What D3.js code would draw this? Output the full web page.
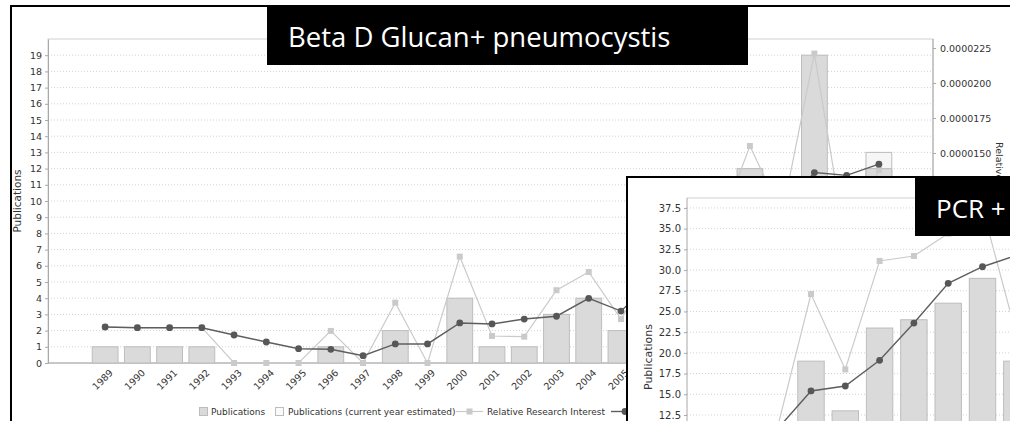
<!DOCTYPE html>
<html>
<head>
<meta charset="utf-8">
<script src="https://cdn.jsdelivr.net/npm/d3@7"></script>
<style>
body { margin: 0; background: #fff; }
svg { display: block; font-family: "DejaVu Sans", sans-serif; }
</style>
</head>
<body>
<script>
(function () {
    'use strict';

    // main chart: Beta D Glucan + pneumocystis
    var years = ['1989', '1990', '1991', '1992', '1993', '1994', '1995', '1996', '1997',
        '1998', '1999', '2000', '2001', '2002', '2003', '2004', '2005', '2006', '2007',
        '2008', '2009', '2010', '2011', '2012', '2013'];
    var publications = [1, 1, 1, 1, 0, 0, 0, 1, 0, 2, 0, 4, 1, 1, 3, 4, 2, 3, 6, 8, 12, 10, 19, 8, 12];
    var estimated = [0, 0, 0, 0, 0, 0, 0, 0, 0, 0, 0, 0, 0, 0, 0, 0, 0, 0, 0, 0, 0, 0, 0, 0, 13];
    var relInterest = [0.00000257, 0.00000252, 0.00000252, 0.00000252, 0, 0, 0, 0.00000229, 0,
        0.00000431, 0, 0.0000076, 0.00000193, 0.00000188, 0.0000052, 0.0000065, 0.00000314,
        0.0000070, 0.0000080, 0.0000094, 0.0000155, 0.0000106, 0.0000221, 0.0000081, 0.0000138];
    var relSmoothed = [0.00000257, 0.00000252, 0.00000252, 0.00000252, 0.0000020, 0.0000015,
        0.00000102, 0.00000098, 0.00000052, 0.00000136, 0.00000136, 0.00000286, 0.00000279,
        0.00000314, 0.00000334, 0.00000462, 0.00000371, 0.0000058, 0.0000078, 0.0000098,
        0.0000118, 0.0000110, 0.0000136, 0.0000134, 0.0000142];
    var leftTicks = d3.range(0, 20);
    // only the right-axis ticks above the inset are visible
    var rightTicks = [0.0000150, 0.0000175, 0.0000200, 0.0000225];

    // inset chart: PCR + pneumocystis
    var insetYears = ['1987', '1988', '1989', '1990', '1991', '1992', '1993', '1994', '1995', '1996', '1997'];
    var insetPubs = [3, 5, 9, 19, 13, 23, 24, 26, 29, 19, 22];
    var insetRel = [0.0000050, 0.0000090, 0.0000106, 0.0000271, 0.0000180, 0.0000311, 0.0000317,
        0.0000344, 0.0000375, 0.0000220, 0.0000200];
    var insetSmoothed = [0.0000040, 0.0000070, 0.0000107, 0.0000154, 0.0000160, 0.0000191,
        0.0000236, 0.0000284, 0.0000304, 0.0000318, 0.0000325];
    var insetGrid = d3.range(2.5, 40, 2.5);
    var insetTicks = [12.5, 15, 17.5, 20, 22.5, 25, 27.5, 30, 32.5, 35, 37.5];

    var legendItems = ['Publications', 'Publications (current year estimated)', 'Relative Research Interest'];

    var barFill = '#dadada', barStroke = '#bdbdbd';
    var lightLine = '#cacaca', darkLine = '#5e5e5e';
    var gridColor = '#d2d2d2', axisColor = '#a8a8a8';

    var svg = d3.select('body')
        .append('svg')
        .attr('width', 1010)
        .attr('height', 421);

    // frame of the main screenshot
    svg.append('rect')
        .attr('x', 11).attr('y', 6)
        .attr('width', 1100).attr('height', 500)
        .attr('fill', '#fff').attr('stroke', '#000').attr('stroke-width', 2);

    var m = { left: 48, right: 933, top: 39, bottom: 363 };

    var x = d3.scaleBand().domain(years).range([89, 895]).paddingInner(0.2).paddingOuter(0.1);
    var y = d3.scaleLinear().domain([0, 20]).range([m.bottom, m.top]);
    var yRel = d3.scaleLinear().domain([0, 0.00002314]).range([m.bottom, m.top]);
    var cx = function (d) { return x(d) + x.bandwidth() / 2; };

    svg.append('g').selectAll('line')
        .data(leftTicks.slice(1))
        .enter()
        .append('line')
        .attr('x1', m.left).attr('x2', m.right)
        .attr('y1', function (d) { return y(d); })
        .attr('y2', function (d) { return y(d); })
        .attr('stroke', gridColor).attr('stroke-dasharray', '1,2');

    svg.append('rect')
        .attr('x', m.left).attr('y', m.top)
        .attr('width', m.right - m.left).attr('height', m.bottom - m.top)
        .attr('fill', 'none').attr('stroke', '#cfcfcf');

    var yAxis = svg.append('g')
        .attr('transform', 'translate(' + m.left + ',0)')
        .call(d3.axisLeft(y).tickValues(leftTicks).tickSize(3).tickSizeOuter(0).tickPadding(3));
    yAxis.selectAll('text').attr('font-size', 9.5).attr('fill', '#333').attr('font-family', 'DejaVu Sans');

    var rAxis = svg.append('g')
        .attr('transform', 'translate(' + m.right + ',0)')
        .call(d3.axisRight(yRel).tickValues(rightTicks).tickFormat(d3.format('.7f'))
            .tickSize(3).tickSizeOuter(0).tickPadding(4));
    rAxis.select('.domain').attr('d', 'M0,' + m.bottom + 'V' + m.top);
    rAxis.selectAll('text').attr('font-size', 9.5).attr('fill', '#333').attr('font-family', 'DejaVu Sans');

    var xAxis = svg.append('g')
        .attr('transform', 'translate(0,' + m.bottom + ')')
        .call(d3.axisBottom(x).tickSize(0).tickPadding(0));
    xAxis.select('.domain').remove();
    xAxis.selectAll('text')
        .attr('font-size', 9.5).attr('fill', '#333').attr('font-family', 'DejaVu Sans')
        .attr('text-anchor', 'end')
        .attr('y', 0).attr('dy', '0.35em')
        .attr('transform', 'translate(6,8) rotate(-45)');

    svg.selectAll('.domain, .tick line').attr('stroke', axisColor);
    svg.append('line')
        .attr('x1', m.left).attr('x2', m.right)
        .attr('y1', m.bottom).attr('y2', m.bottom)
        .attr('stroke', axisColor);

    // bars
    svg.append('g').selectAll('rect')
        .data(years.filter(function (d, i) { return estimated[i] > 0; }))
        .enter()
        .append('rect')
        .attr('x', function (d) { return x(d); })
        .attr('width', x.bandwidth())
        .attr('y', function (d) { return y(estimated[years.indexOf(d)]); })
        .attr('height', function (d) { return m.bottom - y(estimated[years.indexOf(d)]); })
        .attr('fill', '#f6f6f6').attr('stroke', barStroke);

    svg.append('g').selectAll('rect')
        .data(years.filter(function (d, i) { return publications[i] > 0; }))
        .enter()
        .append('rect')
        .attr('x', function (d) { return x(d); })
        .attr('width', x.bandwidth())
        .attr('y', function (d) { return y(publications[years.indexOf(d)]); })
        .attr('height', function (d) { return m.bottom - y(publications[years.indexOf(d)]); })
        .attr('fill', barFill).attr('stroke', barStroke);

    function drawLines(g, cats, xs, yScale, light, dark) {
        var lineL = d3.line()
            .x(function (d, i) { return xs(cats[i]); })
            .y(function (d) { return yScale(d); });
        g.append('path').attr('d', lineL(light))
            .attr('fill', 'none').attr('stroke', lightLine).attr('stroke-width', 1.2);
        g.append('g').selectAll('rect')
            .data(light)
            .enter()
            .append('rect')
            .attr('x', function (d, i) { return xs(cats[i]) - 3; })
            .attr('y', function (d) { return yScale(d) - 3; })
            .attr('width', 6).attr('height', 6)
            .attr('fill', lightLine);
        g.append('path').attr('d', lineL(dark))
            .attr('fill', 'none').attr('stroke', darkLine).attr('stroke-width', 1.4);
        g.append('g').selectAll('circle')
            .data(dark)
            .enter()
            .append('circle')
            .attr('cx', function (d, i) { return xs(cats[i]); })
            .attr('cy', function (d) { return yScale(d); })
            .attr('r', 3.4)
            .attr('fill', '#575757');
    }
    drawLines(svg.append('g'), years, cx, yRel, relInterest, relSmoothed);

    svg.append('text')
        .attr('transform', 'translate(21,' + (m.top + m.bottom) / 2 + ') rotate(-90)')
        .attr('text-anchor', 'middle')
        .attr('font-size', 10.5).attr('fill', '#333')
        .text('Publications');
    svg.append('text')
        .attr('transform', 'translate(996,142) rotate(90)')
        .attr('font-size', 9.5).attr('fill', '#333')
        .text('Relative');

    // legend
    var lg = svg.append('g').attr('font-size', 9).attr('fill', '#333');
    lg.append('rect').attr('x', 199.5).attr('y', 407.5).attr('width', 8).attr('height', 8)
        .attr('fill', barFill).attr('stroke', barStroke);
    lg.append('text').attr('x', 211).attr('y', 415).text(legendItems[0]);
    lg.append('rect').attr('x', 275.5).attr('y', 407.5).attr('width', 8).attr('height', 8)
        .attr('fill', '#fafafa').attr('stroke', barStroke);
    lg.append('text').attr('x', 288).attr('y', 415).text(legendItems[1]);
    lg.append('line').attr('x1', 456).attr('x2', 483).attr('y1', 411.5).attr('y2', 411.5)
        .attr('stroke', lightLine).attr('stroke-width', 1.2);
    lg.append('rect').attr('x', 466.5).attr('y', 408.5).attr('width', 6).attr('height', 6)
        .attr('fill', lightLine);
    lg.append('text').attr('x', 487).attr('y', 415).text(legendItems[2]);
    lg.append('line').attr('x1', 611).attr('x2', 640).attr('y1', 411.5).attr('y2', 411.5)
        .attr('stroke', darkLine).attr('stroke-width', 1.4);
    lg.append('circle').attr('cx', 625).attr('cy', 411.5).attr('r', 3.4).attr('fill', '#575757');

    // title box
    svg.append('rect').attr('x', 267).attr('y', 5).attr('width', 481).attr('height', 60).attr('fill', '#000');
    svg.append('text').attr('x', 288).attr('y', 47)
        .attr('font-family', 'Open Sans').attr('font-size', 27.5).attr('fill', '#fff')
        .text('Beta D Glucan+ pneumocystis');

    // inset screenshot
    var ins = svg.append('g');
    ins.append('rect')
        .attr('x', 627).attr('y', 177)
        .attr('width', 500).attr('height', 400)
        .attr('fill', '#fff').attr('stroke', '#000').attr('stroke-width', 2);

    var n = { left: 687, right: 1100, top: 198, bottom: 518.5 };
    var xi = d3.scaleBand().domain(insetYears).range([690.95, 1068.25]).paddingInner(0.23).paddingOuter(0.115);
    var yi = d3.scaleLinear().domain([0, 38.7]).range([n.bottom, n.top]);
    var yiRel = d3.scaleLinear().domain([0, 0.0000387]).range([n.bottom, n.top]);
    var cxi = function (d) { return xi(d) + xi.bandwidth() / 2; };

    ins.append('g').selectAll('line')
        .data(insetGrid)
        .enter()
        .append('line')
        .attr('x1', n.left).attr('x2', n.right)
        .attr('y1', function (d) { return yi(d); })
        .attr('y2', function (d) { return yi(d); })
        .attr('stroke', gridColor).attr('stroke-dasharray', '1,2');
    ins.append('line')
        .attr('x1', n.left).attr('x2', n.right)
        .attr('y1', n.top).attr('y2', n.top)
        .attr('stroke', '#cfcfcf');

    var iAxis = ins.append('g')
        .attr('transform', 'translate(' + n.left + ',0)')
        .call(d3.axisLeft(yi).tickValues(insetTicks).tickFormat(d3.format('.1f'))
            .tickSize(3).tickSizeOuter(0).tickPadding(3));
    iAxis.select('.domain').attr('d', 'M0,' + n.bottom + 'V' + n.top);
    iAxis.selectAll('text').attr('font-size', 10).attr('fill', '#333').attr('font-family', 'DejaVu Sans');
    iAxis.selectAll('.domain, .tick line').attr('stroke', axisColor);

    ins.append('g').selectAll('rect')
        .data(insetYears)
        .enter()
        .append('rect')
        .attr('x', function (d) { return xi(d); })
        .attr('width', xi.bandwidth())
        .attr('y', function (d, i) { return yi(insetPubs[i]); })
        .attr('height', function (d, i) { return n.bottom - yi(insetPubs[i]); })
        .attr('fill', barFill).attr('stroke', barStroke);

    drawLines(ins.append('g'), insetYears, cxi, yiRel, insetRel, insetSmoothed);

    ins.append('text')
        .attr('transform', 'translate(652,357) rotate(-90)')
        .attr('text-anchor', 'middle')
        .attr('font-size', 11).attr('fill', '#333')
        .text('Publications');

    ins.append('rect').attr('x', 915).attr('y', 177).attr('width', 200).attr('height', 59).attr('fill', '#000');
    ins.append('text').attr('x', 936).attr('y', 218)
        .attr('font-family', 'Open Sans').attr('font-size', 26).attr('fill', '#fff')
        .text('PCR +');
}());
</script>
</body>
</html>
